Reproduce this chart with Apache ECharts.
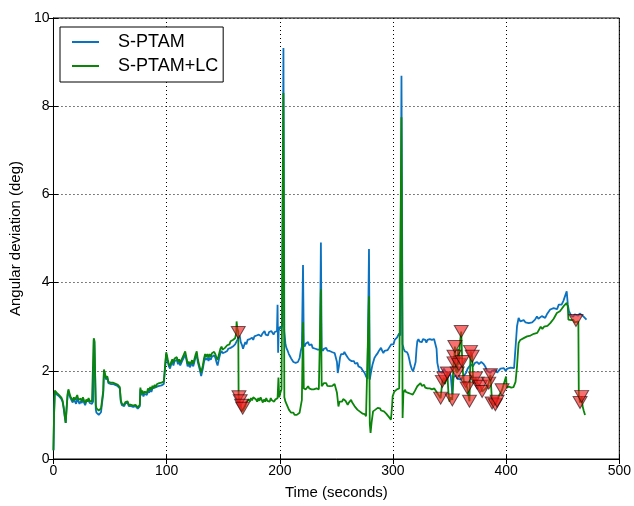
<!DOCTYPE html>
<html>
<head>
<meta charset="utf-8">
<script src="https://cdn.jsdelivr.net/npm/echarts@6/dist/echarts.min.js"></script>
<style>html,body{margin:0;padding:0;background:#fff}#c{width:634px;height:506px}</style>
</head>
<body>
<div id="c"></div>
<script>
var xTicks = [0, 100, 200, 300, 400, 500];
var yTicks = [0, 2, 4, 6, 8, 10];
var seriesNames = ['S-PTAM', 'S-PTAM+LC'];

var sptam = [
[0,0.2],[0.5,1.0],[1.2,1.52],[2,1.5],[3,1.46],[4,1.44],[5,1.42],[6,1.38],[7,1.36],[8,1.3],[9,1.15],[10,0.95],[10.8,0.82],[11.5,1.1],[12.5,1.45],[13.2,1.55],[14,1.45],[15,1.38],[16,1.34],[17,1.28],[18,1.35],[19,1.3],[20,1.25],[21,1.4],[22,1.3],[23,1.25],[24,1.32],[25,1.27],[26,1.35],[27,1.28],[28,1.22],[29,1.3],[30,1.26],[31,1.33],[32,1.27],[33,1.3],[34,1.25],[35,1.3],[35.6,2.7],[36.2,2.65],[36.8,1.9],[37.4,1.12],[38,1.05],[39,1.02],[40,1.0],[41,1.02],[42,1.06],[43,1.1],[44,1.5],[44.6,2.0],[45.5,1.98],[46.5,1.8],[47.5,1.85],[48.5,1.72],[49.5,1.76],[50.5,1.7],[51.5,1.74],[52.5,1.7],[53.5,1.72],[54.5,1.68],[55.5,1.7],[56.5,1.66],[57.5,1.65],[58.6,1.6],[59.5,1.3],[60.5,1.22],[61.5,1.18],[62.5,1.2],[63.5,1.26],[64.5,1.22],[65.5,1.28],[66.5,1.2],[67.5,1.18],[68.5,1.2],[69.5,1.22],[70.5,1.18],[71.5,1.15],[72.5,1.2],[73.5,1.17],[74.5,1.14],[75.5,1.16],[76.3,1.2],[76.8,1.58],[77.5,1.45],[78.5,1.5],[79.5,1.42],[80.5,1.48],[81.5,1.52],[82.5,1.45],[83.5,1.55],[84.5,1.5],[85.5,1.58],[86.5,1.52],[87.5,1.6],[88.5,1.56],[89.5,1.62],[90.5,1.58],[91.5,1.64],[92.5,1.6],[93.5,1.66],[94.5,1.62],[95.5,1.67],[96.5,1.64],[97.5,1.7],[98.5,1.66],[99.2,1.7],[99.6,2.38],[100.3,2.3],
[101,2.2],[102,2.1],[103,2.05],[104,2.15],[105,2.2],[106,2.12],[107,2.22],[108,2.18],[109,2.25],[110,2.15],[111,2.2],[112,2.12],[113,2.18],[114,2.24],[115,2.2],[116.4,2.36],[117.5,2.25],[118.5,2.1],[119.5,2.15],[120.5,2.08],[121.5,2.12],[122.5,2.18],[123.5,2.1],[124.5,2.2],[125.5,2.3],[126.6,2.38],[127.5,2.2],[128.5,2.1],[129.5,2.0],[130.5,1.88],[131,1.84],[132,2.05],[133,2.2],[134,2.3],[135,2.25],[136,2.3],[137,2.22],[138,2.3],[139,2.25],[140,2.32],[141,2.28],[142,2.35],[143,2.3],[144,2.2],[145,2.12],[145.7,2.15],[146.5,2.3],[147.5,2.4],[148.5,2.45],[149.5,2.4],[150.5,2.36],[151.5,2.42],[152.5,2.38],[153.5,2.45],[154.5,2.5],[155.5,2.48],[156.5,2.52],[157.5,2.5],[158.5,2.55],[159.5,2.58],[160.5,2.6],[161.5,2.62],[162.5,2.7],[163.3,2.75],[164.5,2.8],
[165.5,2.65],[166.5,2.59],[167.5,2.5],[168.5,2.58],[169.5,2.65],[170.5,2.6],[171.5,2.7],[172.5,2.66],[173.5,2.72],[174.5,2.68],[175.5,2.75],[176.5,2.7],[177.5,2.78],[178.5,2.74],[179.5,2.8],[180.5,2.76],[181.5,2.82],[182.5,2.86],[183.5,2.78],[184.5,2.84],[185.5,2.8],[186.5,2.9],[187.5,2.82],[188.5,2.86],[189.5,2.8],[190.5,2.88],[191.5,2.84],[192.5,2.9],[193.5,2.86],[194.5,2.82],[195.5,2.88],[196.5,2.84],[197.5,2.9],[198,3.5],[198.5,2.41],[199,2.9],[200,3.0],[201,2.95],[202,3.02],[203.2,9.32],[204,2.9],[205,2.6],[205.8,2.52],[207,2.45],[208,2.38],[209,2.33],[210,2.28],[211,2.24],[212,2.2],[213,2.22],[214,2.18],[215,2.21],[216,2.2],[217.5,2.29],[218.5,2.45],[219.5,2.55],[220.5,4.4],[221.2,2.6],[222,2.55],[223,2.62],[224.2,2.6],[225,2.65],[226,2.58],[227.1,2.55],[228,2.6],[229,2.52],[230,2.55],[231.5,2.5],[232.5,2.54],[233.5,2.48],[234.5,2.5],[235.5,2.48],[236.3,4.91],[237,2.5],[238,2.45],[239,2.5],[240,2.48],[241,2.52],[242,2.46],[243,2.5],[244,2.45],[245.4,2.48],[246.5,2.42],[247.5,2.46],[248.5,2.4],[249.5,2.38],[250.5,2.2],[251.2,1.95],[252.2,2.1],[253.2,2.3],[254.2,2.38],[255.2,2.42],[256.2,2.38],[257.1,2.43],[258,2.38],[259,2.35],[260,2.3],[261.5,2.25],[262.5,2.28],[263.5,2.22],[264.5,2.2],[265.5,2.22],[266.5,2.16],[267.4,2.14],[268.5,2.18],[269.5,2.1],[270.5,2.12],[271.8,2.07],[273,2.02],[274,2.0],[275,1.95],[276.2,1.87],[277.5,1.82],[278.8,4.76],[279.5,1.8],[280.7,1.99],[282,2.15],[283.6,2.29],[285,2.35],[286.5,2.4],[287.5,2.45],[288.5,2.48],[289.4,2.52],[290.5,2.45],[291.5,2.4],[292.5,2.45],[293.5,2.42],[295.3,2.47],[296.5,2.52],[297.5,2.55],[298.5,2.6],[299.7,2.63],[300.5,2.6],[301.5,2.7],[302.6,2.67],[303.5,2.75],[304.5,2.8],[305.5,2.85],[306.5,2.8],[307.5,8.69],[308.5,2.6],[309.5,2.5],[310.5,2.44],[311.5,2.4],[312.5,2.42],[313.5,2.36],[314.5,2.25],[315.4,2.14],[316.5,2.05],[317.7,1.99],[319,2.1],[320,2.2],[320.8,2.5],[321.5,2.67],[322.5,2.72],[323.5,2.66],[324.5,2.7],[325.5,2.65],[326.5,2.72],[327.5,2.68],[328.5,2.7],[329.5,2.64],[330.5,2.7],[331.5,2.66],[332.5,2.72],[333.5,2.68],[334.5,2.7],[335.5,2.66],[336.3,2.72],[337.7,2.74],[338.5,2.5],[339.2,2.18],[340.7,1.99],[342,2.02],[343.5,1.95],[345,2.05],[346.5,1.98],[348,2.02],[349.5,1.95],[351,1.9],[352.5,1.45],[353.5,1.85],[355.5,1.9],[357,1.82],[358.5,1.85],[360,1.8],[361.5,1.85],[363,1.9],[364.5,1.95],[366,2.05],[367.5,2.1],[369,2.15],[370.5,2.1],[371.4,2.1],[372.5,2.18],[374.4,2.2],[376,2.15],[378,2.2],[380.2,2.15],[381.5,2.1],[383.1,2.0],[384.5,1.97],[386,1.95],[387.5,2.0],[389,1.97],[390.5,2.02],[392,1.96],[393.5,2.0],[395,2.05],[396.5,2.02],[398,2.06],[399.5,2.0],[401,2.05],[402.5,2.02],[404,2.07],[405.5,2.03],[407,2.06],[408,2.05],[409.6,3.01],[411,3.2],[412.5,3.12],[414,3.08],[415.5,3.15],[417,3.1],[418.5,3.14],[420,3.08],[421.5,3.12],[423,3.1],[424.2,3.12],[425.5,3.16],[427.2,3.23],[428.5,3.18],[430,3.2],[431.5,3.24],[433,3.25],[434.5,3.2],[436,3.28],[437.5,3.3],[438.9,3.39],[440.5,3.35],[442,3.42],[443.3,3.46],[445,3.4],[446.5,3.5],[447.7,3.54],[449,3.5],[450.5,3.58],[452.1,3.6],[453.5,3.8],[454.5,3.5],[455.5,3.35],[456.4,3.31],[457.5,3.25],[459.3,3.23],[460.5,3.28],[462,3.3],[463.7,3.25],[465,3.3],[466.7,3.31],[468,3.24],[469.6,3.28],[471,3.16]
];

var sptamLC = [
[0,0.2],[0.5,1.0],[1.2,1.55],[2,1.53],[3,1.5],[4,1.47],[5,1.45],[6,1.42],[7,1.39],[8,1.33],[9,1.18],[10,0.98],[10.8,0.82],[11.5,1.12],[12.5,1.48],[13.2,1.58],[14,1.5],[15,1.42],[16,1.38],[17,1.32],[18,1.4],[19,1.34],[20,1.3],[21,1.45],[22,1.34],[23,1.3],[24,1.37],[25,1.31],[26,1.4],[27,1.33],[28,1.27],[29,1.35],[30,1.3],[31,1.38],[32,1.32],[33,1.35],[34,1.3],[35,1.34],[35.6,2.74],[36.2,2.68],[36.8,1.95],[37.4,1.22],[38,1.15],[39,1.12],[40,1.1],[41,1.12],[42,1.15],[43,1.18],[44,1.55],[44.6,2.03],[45.5,2.0],[46.5,1.83],[47.5,1.88],[48.5,1.75],[49.5,1.79],[50.5,1.73],[51.5,1.77],[52.5,1.73],[53.5,1.75],[54.5,1.71],[55.5,1.73],[56.5,1.69],[57.5,1.68],[58.6,1.63],[59.5,1.33],[60.5,1.25],[61.5,1.21],[62.5,1.23],[63.5,1.29],[64.5,1.25],[65.5,1.31],[66.5,1.23],[67.5,1.21],[68.5,1.23],[69.5,1.25],[70.5,1.21],[71.5,1.18],[72.5,1.23],[73.5,1.2],[74.5,1.17],[75.5,1.19],[76.3,1.23],[76.8,1.62],[77.5,1.5],[78.5,1.55],[79.5,1.47],[80.5,1.53],[81.5,1.57],[82.5,1.5],[83.5,1.6],[84.5,1.55],[85.5,1.63],[86.5,1.57],[87.5,1.66],[88.5,1.61],[89.5,1.68],[90.5,1.63],[91.5,1.7],[92.5,1.66],[93.5,1.72],[94.5,1.68],[95.5,1.73],[96.5,1.7],[97.5,1.76],[98.5,1.72],[99.2,1.76],[99.6,2.42],[100.3,2.35],
[101,2.25],[102,2.15],[103,2.1],[104,2.2],[105,2.26],[106,2.18],[107,2.28],[108,2.24],[109,2.31],[110,2.21],[111,2.26],[112,2.18],[113,2.24],[114,2.3],[115,2.26],[116.4,2.44],[117.5,2.3],[118.5,2.16],[119.5,2.21],[120.5,2.14],[121.5,2.18],[122.5,2.24],[123.5,2.16],[124.5,2.26],[125.5,2.36],[126.6,2.44],[127.5,2.26],[128.5,2.16],[129.5,2.06],[130.5,1.96],[131,1.95],[132,2.12],[133,2.28],[134,2.38],[135,2.32],[136,2.38],[137,2.3],[138,2.38],[139,2.32],[140,2.4],[141,2.36],[142,2.43],[143,2.38],[144,2.3],[145,2.25],[145.7,2.28],[146.5,2.4],[147.5,2.5],[148.5,2.55],[149.5,2.48],[150.5,2.44],[151.5,2.52],[152.5,2.5],[153.5,2.58],[154.5,2.62],[155.5,2.6],[156.5,2.67],[157.5,2.64],[158.5,2.7],[159.5,2.68],[160.5,2.74],[161.5,2.85],[161.8,3.12],[162.5,2.95],[163.3,2.89],[163.6,1.42],[164.2,1.33],[165,1.25],[166,1.15],[167,1.08],[167.7,1.04],[168.5,1.12],[169.5,1.2],[170.5,1.3],[171.5,1.28],[172.5,1.35],[173.5,1.3],[174.5,1.38],[175.5,1.33],[176.5,1.4],[177.5,1.36],[178,1.42],[179,1.35],[180,1.3],[181,1.38],[182,1.32],[183,1.4],[184,1.34],[185,1.28],[186,1.35],[187,1.3],[188,1.38],[189,1.32],[190,1.36],[191,1.3],[192,1.38],[193,1.33],[194,1.36],[195,1.3],[196,1.35],[197,1.32],[198,1.38],[198.8,1.85],[199.5,1.4],[200.5,1.5],[201.5,1.58],[202.5,1.6],[203.2,8.3],[204,1.4],[205,1.3],[205.8,1.27],[207,1.18],[208,1.12],[209,1.08],[210,1.05],[211,1.02],[212,1.05],[213,1.0],[214,0.98],[215,1.0],[216,0.97],[217.5,1.05],[218.5,1.2],[219.5,1.34],[220.5,3.1],[221.2,1.6],[222,1.62],[223,1.58],[224.2,1.6],[225,1.65],[226,1.6],[227.1,1.62],[228,1.58],[229,1.55],[230,1.58],[231.5,1.55],[232.5,1.6],[233.5,1.56],[234.5,1.58],[235.5,1.6],[236.3,3.85],[237,1.65],[238,1.68],[239,1.72],[240,1.68],[241,1.72],[242,1.66],[243,1.7],[244,1.65],[245.4,1.62],[246.5,1.66],[247.5,1.7],[248.4,1.7],[249.7,1.66],[250.5,1.5],[251.8,1.19],[252.8,1.3],[254,1.34],[255,1.3],[256,1.36],[257.1,1.38],[258,1.32],[259,1.28],[260,1.23],[261,1.28],[262,1.32],[263,1.34],[264,1.28],[265,1.24],[266,1.2],[267.4,1.16],[268.5,1.12],[269.5,1.1],[270.5,1.08],[271.8,1.05],[273,1.03],[274,1.0],[275,1.02],[276.2,0.97],[277.5,0.95],[278.8,3.69],[279.5,0.8],[280.2,0.59],[281.2,0.85],[282.4,1.08],[283.5,1.1],[284.5,1.12],[285.5,1.15],[286.5,1.16],[287.5,1.12],[288.5,1.15],[289.5,1.1],[290.9,1.12],[292,1.08],[293,1.05],[294,1.03],[295.3,1.0],[296.5,0.95],[297.5,0.92],[298.2,0.89],[299.2,1.2],[299.7,1.42],[300.5,1.38],[301.2,1.53],[302.6,1.53],[303.5,1.58],[304.5,1.55],[305.5,1.6],[306.5,1.56],[307.5,7.75],[308.5,0.93],[309.2,1.5],[310.5,1.57],[311.5,1.52],[312.5,1.55],[313.5,1.5],[314.5,1.54],[315.5,1.48],[316.5,1.52],[317.5,1.46],[318.5,1.5],[319.5,1.55],[320.5,1.6],[321.5,1.65],[322.5,1.68],[324.3,1.72],[325.5,1.66],[326.5,1.64],[327.5,1.68],[328.5,1.62],[329.5,1.66],[330.5,1.6],[331.5,1.64],[332.5,1.6],[333.5,1.63],[334.5,1.58],[335.5,1.62],[336.5,1.6],[337.7,1.57],[339,1.5],[340.7,1.46],
[342.1,1.38],[343.6,1.76],[345,1.84],[346,1.7],[348,1.95],[349,1.5],[350,1.3],[351,1.4],[352.4,1.34],[353,1.9],[353.9,2.33],[353.9,2.18],[354.7,2.55],[355.5,2.0],[356.8,1.95],[357.5,2.5],[358.2,2.14],[359,2.6],[360.3,2.89],[361.2,2.21],[362,1.9],[363,1.7],[364.1,1.76],[365.6,1.61],[367.6,1.31],[368.5,2.44],[370,2.33],[371,1.7],[372.9,1.84],[374.4,1.72],[377.3,1.65],[378.8,1.53],[380,1.55],[382,1.6],[384.6,1.72],[386.1,1.91],[387.6,1.27],[390.5,1.23],[392,1.31],[393,1.4],[395,1.5],[396.4,1.57],[398,1.6],[399.9,1.87],
[400.5,1.62],[401.5,1.6],[402.5,1.64],[403.5,1.6],[404.5,1.62],[405.5,1.58],[406.5,1.63],[407.5,1.65],[408.3,1.75],[409.6,2.1],[410.5,2.45],[411,2.63],[412.5,2.7],[414,2.66],[415.5,2.74],[417,2.7],[418.5,2.78],[420,2.74],[421.5,2.8],[423,2.76],[424.5,2.84],[426,2.8],[427.5,2.86],[429,2.9],[430.5,3.0],[432,2.95],[433.5,3.0],[435,2.97],[436.5,3.02],[438,3.0],[439,3.08],[440.5,3.12],[442,3.18],[443.5,3.22],[444.8,3.31],[446,3.3],[447.5,3.35],[449,3.4],[450.6,3.46],[452,3.44],[453.5,3.54],[454.5,3.45],[455,3.16],[456.4,3.2],[457.5,3.15],[459.3,3.16],[460.5,3.1],[461.7,3.14],[463.8,3.12],[464.2,1.46],[465.3,1.28],[466.7,1.42],[467.5,1.2],[468.5,1.1],[469.7,1.0]
];

var loopClosures = [
[163.3,2.87],[163.9,1.41],[165.0,1.32],[166.2,1.22],[167.2,1.15],
[342.1,1.38],[343.6,1.76],[345,1.84],[348,1.95],[352.4,1.34],[353.9,2.33],[353.9,2.18],[354.7,2.55],[356.8,1.95],[358.2,2.14],[360.3,2.89],[361.2,2.21],[364.1,1.76],[365.6,1.61],[367.6,1.31],[368.5,2.44],[370,2.33],[372.9,1.84],[374.4,1.72],[377.3,1.65],[378.8,1.53],[384.6,1.72],[386.1,1.91],[387.6,1.27],[390.5,1.23],[392,1.31],[396.4,1.57],
[461.7,3.14],[465.3,1.28],[466.7,1.42]
];

var FONT = '"Liberation Sans", Arial, sans-serif';
var chart = echarts.init(document.getElementById('c'), null, {renderer: 'canvas'});
var axisCommon = {
  axisLine: {show: true, lineStyle: {color: '#000', width: 1}},
  axisTick: {show: true, inside: true, length: 5, lineStyle: {color: '#000'}},
  splitLine: {show: true, lineStyle: {color: '#000', type: [1, 3], width: 1}}
};
chart.setOption({
  animation: false,
  backgroundColor: '#fff',
  textStyle: {fontFamily: FONT},
  grid: {left: 51, right: 14, top: 18, bottom: 47, show: true, borderColor: '#000', borderWidth: 1, backgroundColor: 'transparent'},
  legend: {
    data: seriesNames,
    left: 60, top: 27,
    orient: 'vertical',
    backgroundColor: '#fff',
    borderColor: '#000', borderWidth: 1,
    padding: [5, 5, 6, 12],
    itemWidth: 27, itemHeight: 2, itemGap: 4,
    icon: 'rect',
    textStyle: {fontFamily: FONT, fontSize: 18, color: '#000', padding: [0, 0, 0, 14], lineHeight: 20}
  },
  xAxis: [Object.assign({
    type: 'value', min: 0, max: 500, interval: 100, position: 'bottom',
    name: 'Time (seconds)', nameLocation: 'middle', nameGap: 26,
    nameTextStyle: {fontFamily: FONT, fontSize: 15, color: '#000'},
    axisLabel: {fontFamily: FONT, fontSize: 14, color: '#000', margin: 5,
      formatter: function (v) { return xTicks.indexOf(v) >= 0 ? String(v) : ''; }}
  }, axisCommon), {
    type: 'value', min: 0, max: 500, interval: 100, position: 'top',
    axisLine: {show: true, lineStyle: {color: '#000'}},
    axisTick: {show: true, inside: true, length: 5, lineStyle: {color: '#000'}},
    axisLabel: {show: false}, splitLine: {show: false}
  }],
  yAxis: [Object.assign({
    type: 'value', min: 0, max: 10, interval: 2, position: 'left',
    name: 'Angular deviation (deg)', nameLocation: 'middle', nameGap: 25,
    nameTextStyle: {fontFamily: FONT, fontSize: 15, color: '#000'},
    axisLabel: {fontFamily: FONT, fontSize: 14, color: '#000', margin: 4,
      formatter: function (v) { return yTicks.indexOf(v) >= 0 ? String(v) : ''; }}
  }, axisCommon), {
    type: 'value', min: 0, max: 10, interval: 2, position: 'right',
    axisLine: {show: true, lineStyle: {color: '#000'}},
    axisTick: {show: true, inside: true, length: 5, lineStyle: {color: '#000'}},
    axisLabel: {show: false}, splitLine: {show: false}
  }],
  series: [
    {name: seriesNames[0], type: 'line', data: sptam, showSymbol: false, symbol: 'none',
     lineStyle: {color: '#0a72c0', width: 1.8}, itemStyle: {color: '#0a72c0'}, z: 2},
    {name: seriesNames[1], type: 'line', data: sptamLC, showSymbol: false, symbol: 'none',
     lineStyle: {color: '#0a850a', width: 1.8}, itemStyle: {color: '#0a850a'}, z: 3},
    {name: 'loop', type: 'scatter', data: loopClosures, symbol: 'triangle', symbolRotate: 180,
     symbolSize: [14, 12], itemStyle: {color: 'rgba(245,30,30,0.8)', borderColor: 'rgba(20,0,0,0.75)', borderWidth: 1}, z: 4}
  ]
});
</script>
</body>
</html>
